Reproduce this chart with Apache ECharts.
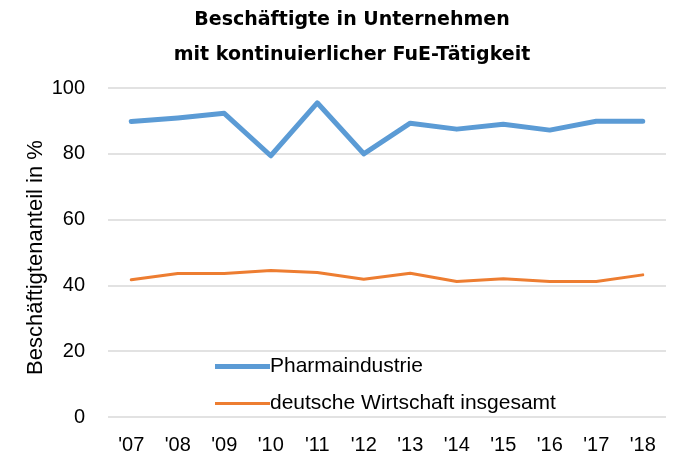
<!DOCTYPE html>
<html><head><meta charset="utf-8">
<script src="https://cdn.jsdelivr.net/npm/echarts@6/dist/echarts.min.js"></script>
<style>html,body{margin:0;padding:0;background:#fff}#c{width:673px;height:457px}</style>
</head><body><div id="c"></div>
<script>
const categories = ["'07","'08","'09","'10","'11","'12","'13","'14","'15","'16","'17","'18"];
const pharma = [89.8, 90.9, 92.3, 79.4, 95.5, 80.0, 89.3, 87.5, 89.0, 87.2, 89.9, 89.9];
const gesamt = [41.7, 43.6, 43.6, 44.5, 43.9, 41.9, 43.7, 41.2, 42.0, 41.2, 41.2, 43.2];
const yTicks = [0, 20, 40, 60, 80, 100];
const seriesNames = ['Pharmaindustrie', 'deutsche Wirtschaft insgesamt'];

const chart = echarts.init(document.getElementById('c'));
const font = 'Liberation Sans, Arial, sans-serif';
chart.setOption({
  animation: false,
  title: {
    text: 'Beschäftigte in Unternehmen\nmit kontinuierlicher FuE-Tätigkeit',
    left: 347, textAlign: 'center', top: -2,
    textStyle: { fontFamily: 'DejaVu Sans', fontWeight: 'bold', fontSize: 19, lineHeight: 35, color: '#000' }
  },
  legend: [
    { data: [seriesNames[0]], orient: 'vertical', left: 210, top: 351, icon: 'rect', itemWidth: 55, itemHeight: 5, itemGap: 0,
      textStyle: { fontFamily: font, fontSize: 21, color: '#000', padding: [0,0,0,-5] } },
    { data: [seriesNames[1]], orient: 'vertical', left: 210, top: 388, icon: 'rect', itemWidth: 55, itemHeight: 3, itemGap: 0,
      textStyle: { fontFamily: font, fontSize: 21, color: '#000', padding: [0,0,0,-5] } }
  ],
  grid: { left: 108, right: 7, top: 88, bottom: 40, containLabel: false },
  xAxis: {
    type: 'category', data: categories, boundaryGap: true,
    axisLine: { show: false }, axisTick: { show: false },
    axisLabel: { fontFamily: font, fontSize: 20, color: '#000', margin: 18 }
  },
  yAxis: {
    type: 'value', min: yTicks[0], max: yTicks[yTicks.length-1], interval: 20,
    name: 'Beschäftigtenanteil in %', nameLocation: 'middle', nameGap: 61, nameRotate: 90,
    nameMoveOverlap: false,
    nameTextStyle: { fontFamily: font, fontSize: 22, color: '#000', padding: [0,0,0,-10] },
    axisLabel: { fontFamily: font, fontSize: 20, color: '#000', margin: 23 },
    splitLine: { lineStyle: { color: '#d9d9d9', width: 1.5 } },
    axisLine: { show: false }, axisTick: { show: false }
  },
  series: [
    { name: seriesNames[0], type: 'line', data: pharma, showSymbol: false, symbol: 'none',
      lineStyle: { color: '#5B9BD5', width: 5, cap: 'round', join: 'round' }, itemStyle: { color: '#5B9BD5' } },
    { name: seriesNames[1], type: 'line', data: gesamt, showSymbol: false, symbol: 'none',
      lineStyle: { color: '#ED7D31', width: 3, cap: 'round', join: 'round' }, itemStyle: { color: '#ED7D31' } }
  ]
});
</script></body></html>
